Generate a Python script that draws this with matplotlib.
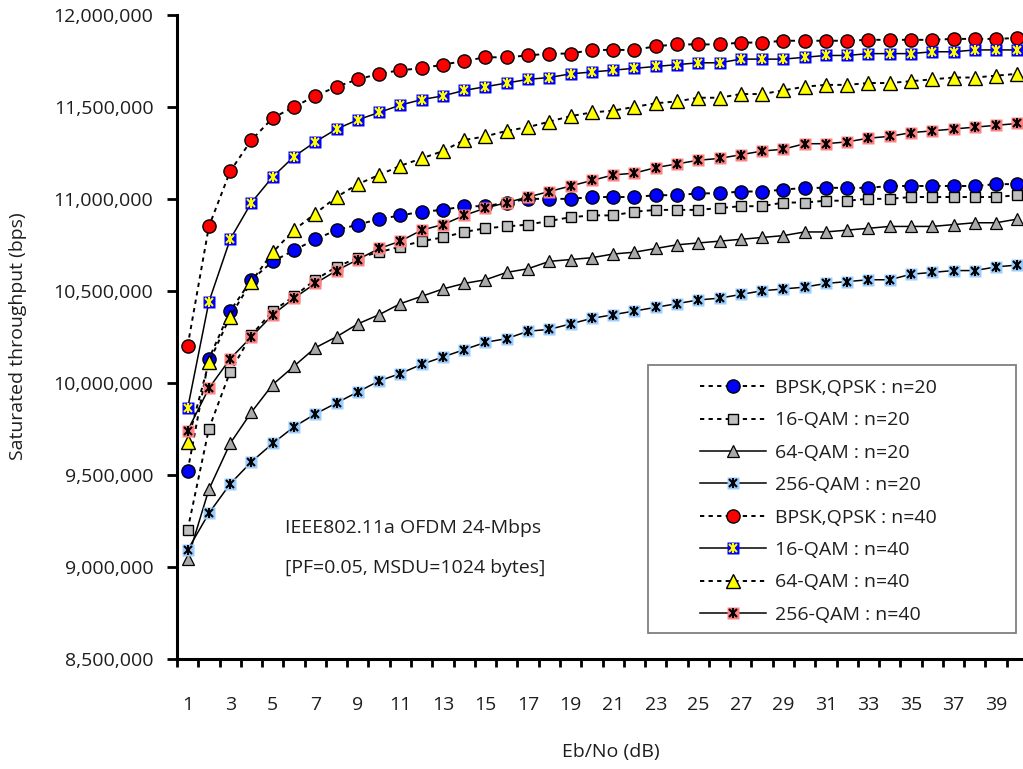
import numpy as np
import matplotlib
matplotlib.use('Agg')
import matplotlib.pyplot as plt
from matplotlib.patches import Rectangle
from matplotlib.legend_handler import HandlerTuple
from matplotlib.ticker import FuncFormatter

# Eb/No (dB)
ebno = np.arange(1, 41)

# saturated throughput, in millions of bps
bpsk_20 = [9.52, 10.13, 10.39, 10.56, 10.66, 10.72, 10.78, 10.83, 10.86, 10.89,
           10.91, 10.93, 10.94, 10.96, 10.96, 10.98, 11.00, 11.00, 11.00, 11.01,
           11.01, 11.01, 11.02, 11.02, 11.03, 11.03, 11.04, 11.04, 11.05, 11.06,
           11.06, 11.06, 11.06, 11.07, 11.07, 11.07, 11.07, 11.07, 11.08, 11.08]
qam16_20 = [9.20, 9.75, 10.06, 10.26, 10.39, 10.47, 10.56, 10.63, 10.68, 10.71,
            10.74, 10.77, 10.79, 10.82, 10.84, 10.85, 10.86, 10.88, 10.90, 10.91,
            10.91, 10.93, 10.94, 10.94, 10.94, 10.95, 10.96, 10.96, 10.98, 10.98,
            10.99, 10.99, 11.00, 11.00, 11.01, 11.01, 11.01, 11.01, 11.01, 11.02]
qam64_20 = [9.04, 9.42, 9.67, 9.84, 9.99, 10.09, 10.19, 10.25, 10.32, 10.37,
            10.43, 10.47, 10.51, 10.54, 10.56, 10.60, 10.62, 10.66, 10.67, 10.68,
            10.70, 10.71, 10.73, 10.75, 10.76, 10.77, 10.78, 10.79, 10.80, 10.82,
            10.82, 10.83, 10.84, 10.85, 10.85, 10.85, 10.86, 10.87, 10.87, 10.89]
qam256_20 = [9.09, 9.29, 9.45, 9.57, 9.67, 9.76, 9.83, 9.89, 9.95, 10.01,
             10.05, 10.10, 10.14, 10.18, 10.22, 10.24, 10.28, 10.29, 10.32, 10.35,
             10.37, 10.39, 10.41, 10.43, 10.45, 10.46, 10.48, 10.50, 10.51, 10.52,
             10.54, 10.55, 10.56, 10.56, 10.59, 10.60, 10.61, 10.61, 10.63, 10.64]
bpsk_40 = [10.20, 10.85, 11.15, 11.32, 11.44, 11.50, 11.56, 11.61, 11.65, 11.68,
           11.70, 11.71, 11.73, 11.75, 11.77, 11.77, 11.78, 11.79, 11.79, 11.81,
           11.81, 11.81, 11.83, 11.84, 11.84, 11.84, 11.85, 11.85, 11.86, 11.86,
           11.86, 11.86, 11.865, 11.865, 11.865, 11.865, 11.87, 11.87, 11.87, 11.875]
qam16_40 = [9.86, 10.44, 10.78, 10.98, 11.12, 11.23, 11.31, 11.38, 11.43, 11.47,
            11.51, 11.54, 11.56, 11.59, 11.61, 11.63, 11.65, 11.66, 11.68, 11.69,
            11.70, 11.71, 11.72, 11.73, 11.74, 11.74, 11.76, 11.76, 11.76, 11.77,
            11.78, 11.78, 11.79, 11.79, 11.79, 11.80, 11.80, 11.81, 11.81, 11.81]
qam64_40 = [9.68, 10.11, 10.36, 10.55, 10.71, 10.83, 10.92, 11.01, 11.08, 11.13,
            11.18, 11.22, 11.26, 11.32, 11.34, 11.37, 11.39, 11.42, 11.45, 11.47,
            11.48, 11.50, 11.52, 11.53, 11.55, 11.55, 11.57, 11.57, 11.59, 11.61,
            11.62, 11.62, 11.63, 11.63, 11.64, 11.65, 11.66, 11.66, 11.67, 11.68]
qam256_40 = [9.74, 9.97, 10.13, 10.25, 10.37, 10.46, 10.54, 10.61, 10.67, 10.73,
             10.77, 10.83, 10.86, 10.91, 10.95, 10.98, 11.01, 11.04, 11.07, 11.10,
             11.13, 11.14, 11.17, 11.19, 11.21, 11.22, 11.24, 11.26, 11.27, 11.30,
             11.30, 11.31, 11.33, 11.34, 11.36, 11.37, 11.38, 11.39, 11.40, 11.41]

labels = ['BPSK,QPSK : n=20', '16-QAM : n=20', '64-QAM : n=20', '256-QAM : n=20',
          'BPSK,QPSK : n=40', '16-QAM : n=40', '64-QAM : n=40', '256-QAM : n=40']

plt.rcParams['font.family'] = ['Open Sans', 'DejaVu Sans']
TXT = '#1e1e1e'
dot = (0, (2.2, 2.2))

fig = plt.figure(figsize=(10.23, 7.69), dpi=100)
ax = fig.add_axes([177 / 1023, 1 - 658.5 / 769, 851 / 1023, 643.5 / 769])


def scaled(v):
    return np.array(v) * 1e6


def starred(y, face, star_color, ms=8.5):
    # square with an excel-like star (x plus vertical bar) on top
    y = scaled(y)
    sq, = ax.plot(ebno, y, ls='-', color='k', lw=1.1, marker='s', ms=ms,
                  mfc=face, mec='none')
    xx, = ax.plot(ebno, y, ls='none', marker='x', ms=5.8, mec=star_color, mew=1.5)
    vb, = ax.plot(ebno, y, ls='none', marker='|', ms=7, mec=star_color, mew=1.5)
    return (sq, xx, vb)


handles = []
# n=20
h, = ax.plot(ebno, scaled(bpsk_20), ls=dot, color='k', lw=1.4, marker='o', ms=9.5,
             mfc='#0000ff', mec='k', mew=1.0)
handles.append(h)
h, = ax.plot(ebno, scaled(qam16_20), ls=dot, color='k', lw=1.4, marker='s', ms=6.5,
             mfc='#c0c0c0', mec='k', mew=1.0)
handles.append(h)
h, = ax.plot(ebno, scaled(qam64_20), ls='-', color='k', lw=1.1, marker='^', ms=8.5,
             mfc='#a9a9a9', mec='k', mew=0.9)
handles.append(h)
handles.append(starred(qam256_20, '#99ccff', 'k', ms=8))
# n=40
h, = ax.plot(ebno, scaled(bpsk_40), ls=dot, color='k', lw=1.4, marker='o', ms=9.5,
             mfc='#ff0000', mec='k', mew=1.0)
handles.append(h)
handles.append(starred(qam16_40, '#0000ff', '#ffff00'))
h, = ax.plot(ebno, scaled(qam64_40), ls=dot, color='k', lw=1.4, marker='^', ms=10.5,
             mfc='#ffff00', mec='k', mew=1.0)
handles.append(h)
handles.append(starred(qam256_40, '#ff8080', 'k'))

ax.set_xlim(0.5, 40.5)
ax.set_ylim(8.5e6, 12e6)
ax.set_yticks(np.arange(8.5e6, 12.01e6, 0.5e6))
ax.yaxis.set_major_formatter(FuncFormatter(lambda v, p: f'{v:,.0f}'))
ax.set_xticks(np.arange(1, 41, 2))
ax.set_xticks(np.arange(0.5, 41, 1), minor=True)

for side in ['top', 'right']:
    ax.spines[side].set_visible(False)
for side in ['left', 'bottom']:
    ax.spines[side].set_linewidth(2.2)

ax.tick_params(axis='y', direction='out', length=7, width=2, pad=10,
               labelsize=14, labelcolor=TXT)
ax.tick_params(axis='x', which='major', length=0, pad=27,
               labelsize=14, labelcolor=TXT)
ax.tick_params(axis='x', which='minor', direction='out', length=6, width=2)

fig.text(611 / 1023, 1 - 752 / 769, 'Eb/No (dB)', ha='center', va='center',
         fontsize=14, color=TXT)
fig.text(18 / 1023, 1 - 336 / 769, 'Saturated throughput (bps)', ha='center',
         va='center', rotation=90, fontsize=14, color=TXT)

fig.text(285 / 1023, 1 - 528 / 769, 'IEEE802.11a OFDM 24-Mbps', ha='left',
         va='center', fontsize=14, color=TXT)
fig.text(285 / 1023, 1 - 568 / 769, '[PF=0.05, MSDU=1024 bytes]', ha='left',
         va='center', fontsize=14, color=TXT)

# legend box drawn separately (it is much wider than its entries)
fig.patches.append(Rectangle((648 / 1023, 1 - 633 / 769), 368 / 1023, 268 / 769,
                             transform=fig.transFigure, fill=True, fc='white',
                             ec='#7f7f7f', lw=1.3, zorder=5))
leg = fig.legend(handles, labels, loc='upper left',
                 bbox_to_anchor=(700 / 1023, 1 - 379 / 769),
                 bbox_transform=fig.transFigure, frameon=False, fontsize=14,
                 handlelength=3.4, handletextpad=0.45, labelspacing=0.74,
                 borderpad=0, borderaxespad=0,
                 handler_map={tuple: HandlerTuple(ndivide=1)})
leg.set_zorder(6)
for t in leg.get_texts():
    t.set_color(TXT)

plt.savefig('out.png', dpi=100)
